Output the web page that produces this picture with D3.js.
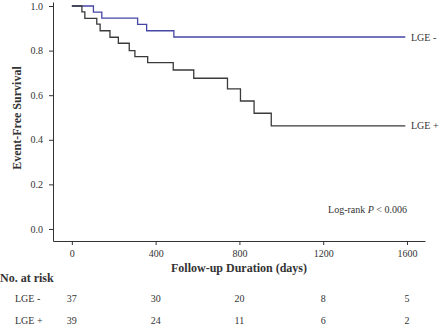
<!DOCTYPE html>
<html>
<head>
<meta charset="utf-8">
<script src="https://cdn.jsdelivr.net/npm/d3@7"></script>
<style>
  body { margin: 0; background: #fff; }
  svg text { font-family: "Liberation Serif", "Times New Roman", serif; fill: #333; }
</style>
</head>
<body>
<div id="chart"></div>
<script>
// Kaplan-Meier steps (days, survival)
const negTimes = [0, 103, 143, 314, 357, 487, 1592];
const negSurv = [1, 0.973, 0.946, 0.918, 0.889, 0.861, 0.861];
const posTimes = [0, 48, 62, 119, 135, 182, 222, 274, 301, 362, 484, 582, 743, 805, 870, 952, 1592];
const posSurv = [1, 0.974, 0.945, 0.919, 0.889, 0.86, 0.833, 0.80, 0.773, 0.746, 0.713, 0.676, 0.628, 0.574, 0.519, 0.462, 0.462];

// Axis ticks
const xTicks = [0, 400, 800, 1200, 1600];
const yTicks = [0, 0.2, 0.4, 0.6, 0.8, 1.0];

// Numbers at risk
const riskTimes = [0, 400, 800, 1200, 1600];
const riskNeg = [37, 30, 20, 8, 5];
const riskPos = [39, 24, 11, 6, 2];

const width = 440, height = 324;

const svg = d3.select('#chart')
  .append('svg')
  .attr('width', width)
  .attr('height', height);

// Scales
const x = d3.scaleLinear().domain([-90, 1686]).range([53, 425]);
const y = d3.scaleLinear().domain([-0.054, 1.018]).range([241, 2]);

// Y axis
const yAxis = svg.append('g')
  .attr('transform', 'translate(53,0)')
  .call(d3.axisLeft(y).tickValues(yTicks).tickFormat(d3.format('.1f'))
    .tickSize(4).tickSizeOuter(0).tickPadding(6));
yAxis.selectAll('text').style('font-size', '10px');

// X axis
const xAxis = svg.append('g')
  .attr('transform', 'translate(0,241)')
  .call(d3.axisBottom(x).tickValues(xTicks).tickFormat(d3.format('d'))
    .tickSize(4).tickSizeOuter(0).tickPadding(5));
xAxis.selectAll('text').style('font-size', '10px');

svg.selectAll('.domain, .tick line').attr('stroke', '#333');

// Survival curves
const line = d3.line()
  .x((d) => x(d[0]))
  .y((d) => y(d[1]))
  .curve(d3.curveStepAfter);

svg.append('path')
  .datum(d3.zip(negTimes, negSurv))
  .attr('fill', 'none')
  .attr('stroke', '#4646a6')
  .attr('stroke-width', 1.3)
  .attr('d', line);

svg.append('path')
  .datum(d3.zip(posTimes, posSurv))
  .attr('fill', 'none')
  .attr('stroke', '#3a3a3a')
  .attr('stroke-width', 1.3)
  .attr('d', line);

// Curve labels
svg.append('text')
  .attr('x', 411)
  .attr('y', y(negSurv[negSurv.length - 1]) + 3.5)
  .style('font-size', '10px')
  .text('LGE -');

svg.append('text')
  .attr('x', 411)
  .attr('y', y(posSurv[posSurv.length - 1]) + 3.5)
  .style('font-size', '10px')
  .text('LGE +');

// Log-rank note
const note = svg.append('text')
  .attr('x', 407)
  .attr('y', 213)
  .attr('text-anchor', 'end')
  .style('font-size', '10px');
note.append('tspan').text('Log-rank ');
note.append('tspan').style('font-style', 'italic').text('P');
note.append('tspan').text(' < 0.006');

// Axis titles
svg.append('text')
  .attr('transform', 'translate(21,118) rotate(-90)')
  .attr('text-anchor', 'middle')
  .style('font-size', '12px')
  .style('font-weight', 'bold')
  .text('Event-Free Survival');

svg.append('text')
  .attr('x', 239)
  .attr('y', 272)
  .attr('text-anchor', 'middle')
  .style('font-size', '12px')
  .style('font-weight', 'bold')
  .text('Follow-up Duration (days)');

// Numbers at risk table
svg.append('text')
  .attr('x', 0)
  .attr('y', 282)
  .style('font-size', '12px')
  .style('font-weight', 'bold')
  .text('No. at risk');

const rows = [
  { label: 'LGE -', values: riskNeg, y: 301.5 },
  { label: 'LGE +', values: riskPos, y: 323.5 }
];

rows.forEach((row) => {
  svg.append('text')
    .attr('x', 15)
    .attr('y', row.y)
    .style('font-size', '10px')
    .text(row.label);

  svg.selectAll(null)
    .data(d3.zip(riskTimes, row.values))
    .enter()
    .append('text')
    .attr('x', (d) => x(d[0]))
    .attr('y', row.y)
    .attr('text-anchor', 'middle')
    .style('font-size', '10px')
    .text((d) => d[1]);
});
</script>
</body>
</html>
